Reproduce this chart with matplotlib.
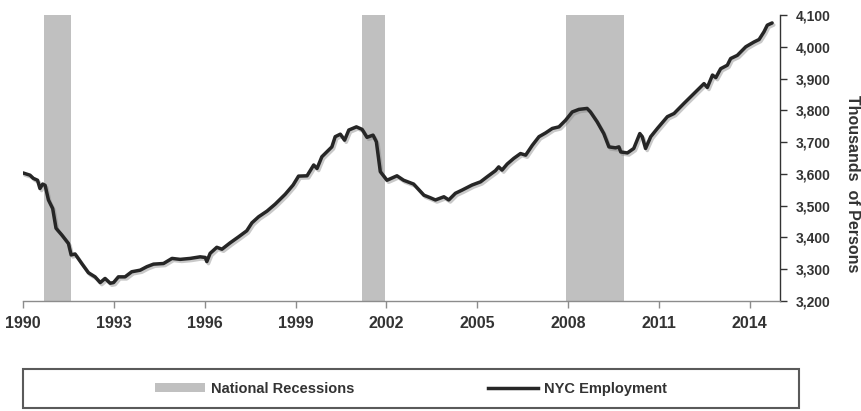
import matplotlib
matplotlib.use("Agg")
import matplotlib.pyplot as plt
import matplotlib.patheffects as pe
from matplotlib.patches import Rectangle, Patch
from matplotlib.lines import Line2D

# NYC employment, thousands of persons (decimal year, value)
years = [1990.00, 1990.23, 1990.34, 1990.48, 1990.56, 1990.65, 1990.73, 1990.84, 1990.98,
         1991.09, 1991.28, 1991.50, 1991.59, 1991.72, 1991.94, 1992.16, 1992.38, 1992.55,
         1992.71, 1992.88, 1992.99, 1993.15, 1993.37, 1993.59, 1993.87, 1994.09, 1994.31,
         1994.64, 1994.92, 1995.19, 1995.52, 1995.85, 1996.02, 1996.07, 1996.18, 1996.40,
         1996.57, 1996.84, 1997.12, 1997.39, 1997.56, 1997.78, 1998.06, 1998.33, 1998.66,
         1998.92, 1999.10, 1999.38, 1999.60, 1999.71, 1999.87, 2000.20, 2000.31, 2000.48,
         2000.62, 2000.76, 2001.01, 2001.20, 2001.36, 2001.56, 2001.67, 2001.80, 2002.02,
         2002.35, 2002.57, 2002.90, 2003.24, 2003.45, 2003.62, 2003.90, 2004.06, 2004.28,
         2004.50, 2004.83, 2005.11, 2005.33, 2005.60, 2005.71, 2005.82, 2005.99, 2006.21,
         2006.43, 2006.60, 2006.82, 2007.04, 2007.26, 2007.48, 2007.70, 2007.92, 2008.14,
         2008.36, 2008.63, 2008.74, 2008.96, 2009.18, 2009.35, 2009.57, 2009.68, 2009.74,
         2009.96, 2010.17, 2010.37, 2010.45, 2010.56, 2010.73, 2010.95, 2011.28, 2011.50,
         2011.83, 2012.16, 2012.49, 2012.60, 2012.77, 2012.88, 2013.04, 2013.26, 2013.37,
         2013.59, 2013.87, 2014.14, 2014.31, 2014.47, 2014.58, 2014.74]
employment = [3603, 3596, 3586, 3580, 3554, 3568, 3564, 3518, 3491,
              3429, 3408, 3381, 3345, 3348, 3318, 3289, 3276, 3258,
              3271, 3256, 3258, 3276, 3276, 3292, 3297, 3308, 3316,
              3318, 3334, 3331, 3334, 3339, 3337, 3324, 3350, 3369,
              3363, 3383, 3402, 3421, 3446, 3465, 3483, 3505, 3536,
              3565, 3593, 3594, 3628, 3617, 3654, 3685, 3717, 3725,
              3706, 3738, 3748, 3740, 3715, 3722, 3701, 3607, 3580,
              3594, 3580, 3568, 3533, 3525, 3518, 3528, 3518, 3539,
              3549, 3565, 3575, 3591, 3610, 3622, 3612, 3631, 3649,
              3664, 3659, 3690, 3717, 3729, 3743, 3748, 3769, 3795,
              3803, 3806, 3795, 3764, 3727, 3685, 3682, 3685, 3669,
              3666, 3680, 3727, 3717, 3680, 3717, 3743, 3780, 3790,
              3822, 3853, 3884, 3872, 3911, 3903, 3931, 3942, 3963,
              3973, 4000, 4015, 4023, 4047, 4068, 4075]

# National recession periods (start, end)
recession_starts = [1990.70, 2001.20, 2007.94]
recession_ends = [1991.59, 2001.95, 2009.85]

x_ticks = [1990, 1993, 1996, 1999, 2002, 2005, 2008, 2011, 2014]
y_ticks = [3200, 3300, 3400, 3500, 3600, 3700, 3800, 3900, 4000, 4100]

FONT = "Liberation Sans"
TEXT_COLOR = "#333333"
REC_COLOR = "#c0c0c0"
LINE_COLOR = "#262626"

fig = plt.figure(figsize=(8.61, 4.11), dpi=100)
ax = fig.add_axes([23 / 861, 1 - 301 / 411, (780 - 23) / 861, (301 - 15) / 411])

for s, e in zip(recession_starts, recession_ends):
    ax.axvspan(s, e, color=REC_COLOR, lw=0, zorder=1)

ax.plot(years, employment, color=LINE_COLOR, lw=2.5, zorder=3,
        solid_joinstyle="round", solid_capstyle="round",
        path_effects=[pe.SimpleLineShadow(offset=(1.2, -1.5), shadow_color="#888888", alpha=0.45),
                      pe.Normal()])

ax.set_xlim(1990, 2015)
ax.set_ylim(3200, 4100)
ax.set_xticks(x_ticks)
ax.set_xticklabels([str(t) for t in x_ticks])
ax.set_yticks(y_ticks)
ax.set_yticklabels([f"{v:,}" for v in y_ticks])

ax.yaxis.tick_right()
ax.yaxis.set_label_position("right")
for side in ("left", "top"):
    ax.spines[side].set_visible(False)
ax.spines["right"].set_color("#333333")
ax.spines["right"].set_linewidth(1.0)
ax.spines["bottom"].set_color("#8c8c8c")
ax.spines["bottom"].set_linewidth(1.0)

ax.tick_params(axis="x", direction="out", length=5, width=1, color="#8c8c8c", pad=6)
ax.tick_params(axis="y", direction="out", length=5, width=1, color="#333333", pad=6)
for lbl in ax.get_xticklabels():
    lbl.set_fontfamily(FONT)
    lbl.set_fontweight("bold")
    lbl.set_fontsize(11.5)
    lbl.set_color(TEXT_COLOR)
for lbl in ax.get_yticklabels():
    lbl.set_fontfamily(FONT)
    lbl.set_fontweight("bold")
    lbl.set_fontsize(10)
    lbl.set_color(TEXT_COLOR)

fig.text(853 / 861, 1 - 184 / 411, "Thousands  of Persons", rotation=-90,
         ha="center", va="center", fontsize=11.5, fontweight="bold",
         family=FONT, color=TEXT_COLOR)

# Legend box
fig.patches.append(Rectangle((23 / 861, 1 - 408 / 411), (799 - 23) / 861, 39 / 411,
                             transform=fig.transFigure, fill=False,
                             edgecolor="#5a5a5a", lw=1.5))
handles = [Patch(facecolor=REC_COLOR, edgecolor="none"),
           Line2D([], [], color=LINE_COLOR, lw=2.5)]
fig.legend(handles, ["National Recessions", "NYC Employment"], ncol=2,
           loc="center", bbox_to_anchor=(411 / 861, 1 - 389 / 411),
           frameon=False, handlelength=3.4, handleheight=0.55, handletextpad=0.4,
           columnspacing=9.2,
           prop={"family": FONT, "weight": "bold", "size": 10.5},
           labelcolor=TEXT_COLOR)

fig.savefig("out.png", dpi=100)
